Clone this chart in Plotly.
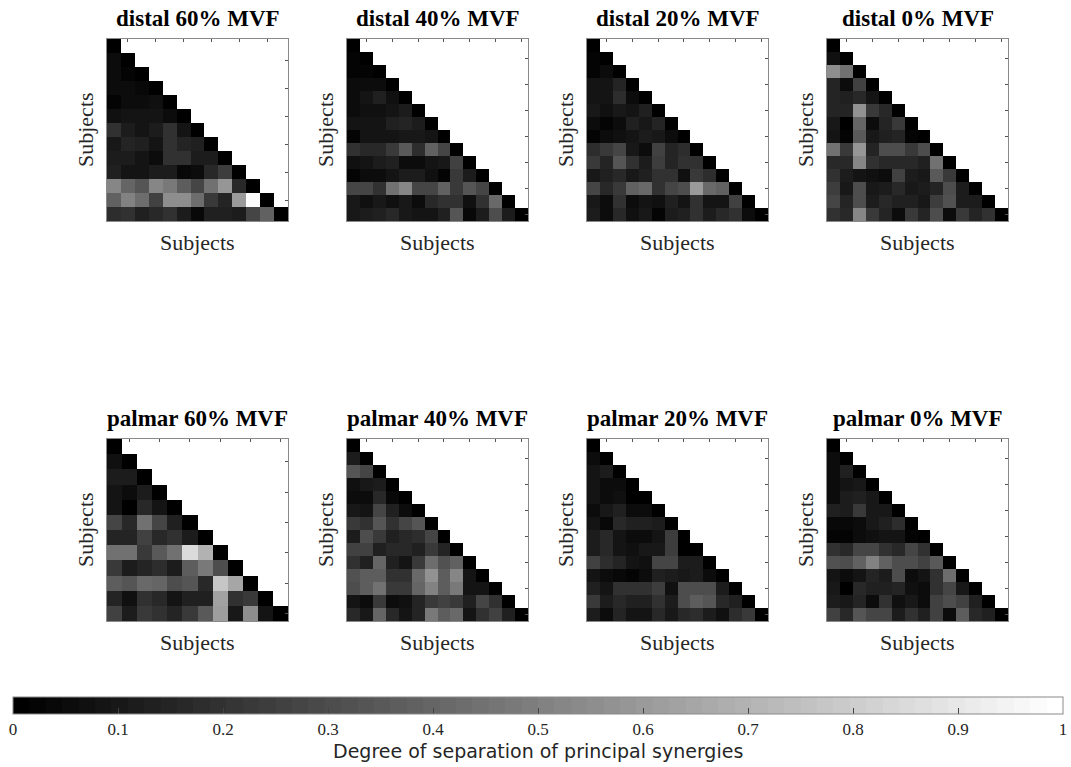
import numpy as np
import plotly.graph_objects as go

# Lower-triangular separation matrices (row i holds columns 1..i)
distal_60 = [
    [0],
    [0.05, 0],
    [0.05, 0.03, 0],
    [0.05, 0.05, 0.04, 0],
    [0.03, 0.06, 0.05, 0.07, 0],
    [0.07, 0.09, 0.08, 0.08, 0.05, 0],
    [0.20, 0.12, 0.09, 0.12, 0.20, 0.08, 0],
    [0.10, 0.15, 0.13, 0.08, 0.20, 0.15, 0.13, 0],
    [0.11, 0.12, 0.09, 0.06, 0.19, 0.19, 0.12, 0.11, 0],
    [0.14, 0.09, 0.09, 0.12, 0.12, 0.04, 0.06, 0.17, 0.24, 0],
    [0.52, 0.40, 0.33, 0.53, 0.47, 0.37, 0.27, 0.45, 0.58, 0.17, 0],
    [0.38, 0.50, 0.43, 0.25, 0.55, 0.56, 0.43, 0.23, 0.15, 0.60, 0.97, 0],
    [0.18, 0.20, 0.14, 0.16, 0.20, 0.11, 0.04, 0.13, 0.14, 0.12, 0.27, 0.38, 0],
]

distal_40 = [
    [0],
    [0.02, 0],
    [0.03, 0.03, 0],
    [0.05, 0.06, 0.06, 0],
    [0.06, 0.08, 0.13, 0.07, 0],
    [0.05, 0.07, 0.07, 0.08, 0.11, 0],
    [0.08, 0.09, 0.09, 0.14, 0.15, 0.11, 0],
    [0.03, 0.08, 0.08, 0.09, 0.10, 0.10, 0.08, 0],
    [0.19, 0.17, 0.16, 0.22, 0.35, 0.18, 0.38, 0.28, 0],
    [0.07, 0.08, 0.11, 0.13, 0.05, 0.05, 0.09, 0.10, 0.25, 0],
    [0.03, 0.06, 0.06, 0.08, 0.11, 0.12, 0.07, 0.03, 0.23, 0.11, 0],
    [0.27, 0.27, 0.20, 0.45, 0.52, 0.27, 0.27, 0.38, 0.23, 0.33, 0.27, 0],
    [0.10, 0.07, 0.10, 0.07, 0.10, 0.05, 0.17, 0.20, 0.20, 0.07, 0.20, 0.42, 0],
    [0.10, 0.12, 0.14, 0.16, 0.10, 0.08, 0.08, 0.13, 0.33, 0.04, 0.12, 0.30, 0.12, 0],
]

distal_20 = [
    [0],
    [0.02, 0],
    [0.02, 0.05, 0],
    [0.08, 0.09, 0.15, 0],
    [0.08, 0.08, 0.18, 0.05, 0],
    [0.10, 0.07, 0.10, 0.08, 0.13, 0],
    [0.05, 0.03, 0.06, 0.14, 0.10, 0.15, 0],
    [0.03, 0.05, 0.07, 0.08, 0.11, 0.10, 0.06, 0],
    [0.18, 0.22, 0.28, 0.10, 0.06, 0.26, 0.15, 0.18, 0],
    [0.22, 0.15, 0.33, 0.19, 0.12, 0.24, 0.15, 0.20, 0.20, 0],
    [0.10, 0.13, 0.17, 0.10, 0.13, 0.20, 0.20, 0.07, 0.22, 0.18, 0],
    [0.27, 0.17, 0.23, 0.38, 0.42, 0.20, 0.27, 0.30, 0.60, 0.42, 0.38, 0],
    [0.10, 0.06, 0.20, 0.06, 0.09, 0.07, 0.14, 0.08, 0.20, 0.08, 0.08, 0.25, 0],
    [0.12, 0.06, 0.17, 0.07, 0.10, 0.02, 0.11, 0.13, 0.20, 0.12, 0.17, 0.20, 0.05, 0],
]

distal_0 = [
    [0],
    [0.07, 0],
    [0.55, 0.45, 0],
    [0.15, 0.06, 0.25, 0],
    [0.15, 0.13, 0.17, 0.08, 0],
    [0.15, 0.15, 0.57, 0.22, 0.16, 0],
    [0.10, 0.00, 0.40, 0.06, 0.15, 0.22, 0],
    [0.08, 0.03, 0.35, 0.10, 0.13, 0.15, 0.03, 0],
    [0.45, 0.23, 0.58, 0.15, 0.30, 0.30, 0.22, 0.30, 0],
    [0.17, 0.17, 0.52, 0.20, 0.17, 0.17, 0.17, 0.13, 0.45, 0],
    [0.20, 0.12, 0.08, 0.07, 0.05, 0.25, 0.12, 0.10, 0.35, 0.22, 0],
    [0.24, 0.10, 0.30, 0.10, 0.12, 0.17, 0.10, 0.12, 0.15, 0.30, 0.12, 0],
    [0.27, 0.15, 0.30, 0.12, 0.17, 0.13, 0.13, 0.10, 0.24, 0.32, 0.12, 0.12, 0],
    [0.20, 0.16, 0.52, 0.23, 0.15, 0.05, 0.22, 0.15, 0.30, 0.06, 0.22, 0.15, 0.20, 0],
]

palmar_60 = [
    [0],
    [0.07, 0],
    [0.11, 0.12, 0],
    [0.08, 0.06, 0.11, 0],
    [0.08, 0.00, 0.17, 0.08, 0],
    [0.27, 0.16, 0.45, 0.27, 0.14, 0],
    [0.15, 0.15, 0.25, 0.17, 0.20, 0.12, 0],
    [0.45, 0.45, 0.22, 0.35, 0.45, 0.85, 0.70, 0],
    [0.23, 0.11, 0.15, 0.18, 0.11, 0.37, 0.48, 0.30, 0],
    [0.37, 0.33, 0.42, 0.40, 0.30, 0.33, 0.17, 0.77, 0.65, 0],
    [0.15, 0.07, 0.20, 0.16, 0.09, 0.13, 0.14, 0.64, 0.20, 0.22, 0],
    [0.25, 0.12, 0.23, 0.20, 0.15, 0.23, 0.35, 0.62, 0.10, 0.55, 0.08, 0],
]

palmar_40 = [
    [0],
    [0.12, 0],
    [0.33, 0.28, 0],
    [0.07, 0.10, 0.12, 0],
    [0.06, 0.05, 0.17, 0.04, 0],
    [0.10, 0.09, 0.28, 0.13, 0.06, 0],
    [0.22, 0.20, 0.33, 0.20, 0.27, 0.33, 0],
    [0.12, 0.30, 0.23, 0.13, 0.17, 0.18, 0.27, 0],
    [0.25, 0.25, 0.13, 0.16, 0.16, 0.14, 0.22, 0.15, 0],
    [0.20, 0.13, 0.40, 0.13, 0.09, 0.22, 0.43, 0.32, 0.38, 0],
    [0.32, 0.37, 0.37, 0.20, 0.20, 0.42, 0.57, 0.37, 0.53, 0.09, 0],
    [0.30, 0.37, 0.45, 0.22, 0.23, 0.40, 0.50, 0.37, 0.47, 0.08, 0.08, 0],
    [0.08, 0.06, 0.23, 0.05, 0.07, 0.15, 0.22, 0.26, 0.22, 0.13, 0.27, 0.20, 0],
    [0.17, 0.10, 0.40, 0.17, 0.08, 0.15, 0.48, 0.37, 0.42, 0.09, 0.20, 0.25, 0.14, 0],
]

palmar_20 = [
    [0],
    [0.05, 0],
    [0.09, 0.11, 0],
    [0.08, 0.06, 0.05, 0],
    [0.09, 0.06, 0.07, 0.01, 0],
    [0.06, 0.10, 0.13, 0.05, 0.06, 0],
    [0.08, 0.04, 0.17, 0.13, 0.13, 0.12, 0],
    [0.12, 0.17, 0.09, 0.05, 0.05, 0.08, 0.24, 0],
    [0.11, 0.17, 0.08, 0.07, 0.10, 0.10, 0.24, 0.00, 0],
    [0.25, 0.18, 0.15, 0.08, 0.07, 0.27, 0.28, 0.12, 0.12, 0],
    [0.09, 0.05, 0.04, 0.03, 0.05, 0.13, 0.11, 0.10, 0.11, 0.06, 0],
    [0.13, 0.08, 0.20, 0.20, 0.20, 0.24, 0.07, 0.30, 0.30, 0.30, 0.12, 0],
    [0.22, 0.12, 0.17, 0.14, 0.14, 0.20, 0.12, 0.30, 0.37, 0.33, 0.17, 0.13, 0],
    [0.12, 0.05, 0.15, 0.08, 0.08, 0.17, 0.10, 0.16, 0.18, 0.11, 0.07, 0.18, 0.22, 0],
]

palmar_0 = [
    [0],
    [0.05, 0],
    [0.05, 0.13, 0],
    [0.05, 0.08, 0.10, 0],
    [0.05, 0.12, 0.13, 0.10, 0],
    [0.13, 0.12, 0.23, 0.10, 0.10, 0],
    [0.04, 0.04, 0.06, 0.10, 0.13, 0.18, 0],
    [0.02, 0.02, 0.05, 0.07, 0.08, 0.08, 0.03, 0],
    [0.20, 0.17, 0.28, 0.27, 0.20, 0.17, 0.27, 0.20, 0],
    [0.32, 0.30, 0.38, 0.50, 0.38, 0.30, 0.30, 0.25, 0.35, 0],
    [0.08, 0.05, 0.08, 0.15, 0.12, 0.30, 0.05, 0.08, 0.20, 0.43, 0],
    [0.10, 0.00, 0.17, 0.13, 0.13, 0.15, 0.07, 0.05, 0.20, 0.27, 0.10, 0],
    [0.12, 0.10, 0.15, 0.06, 0.20, 0.07, 0.10, 0.05, 0.25, 0.30, 0.25, 0.13, 0],
    [0.25, 0.16, 0.33, 0.27, 0.27, 0.12, 0.20, 0.13, 0.25, 0.06, 0.37, 0.17, 0.13, 0],
]

panel_titles = [
    "distal 60% MVF", "distal 40% MVF", "distal 20% MVF", "distal 0% MVF",
    "palmar 60% MVF", "palmar 40% MVF", "palmar 20% MVF", "palmar 0% MVF",
]
panel_data = [distal_60, distal_40, distal_20, distal_0,
              palmar_60, palmar_40, palmar_20, palmar_0]
colorbar_ticks = [0, 0.1, 0.2, 0.3, 0.4, 0.5, 0.6, 0.7, 0.8, 0.9, 1]
axis_label = "Subjects"
colorbar_title = "Degree of separation of principal synergies"

W, H = 1071, 767
SERIF = "Liberation Serif, Times New Roman, serif"
SANS = "DejaVu Sans, sans-serif"

# Panel boxes in pixels
col_left = [107, 347, 587, 827]
box_w = 181
row_top = [39, 439]
box_h = 182


def px_x(x):
    return x / W


def px_y(y):
    return 1 - y / H


def to_matrix(rows):
    n = len(rows)
    m = np.full((n, n), np.nan)
    for i, r in enumerate(rows):
        m[i, :len(r)] = r
    return m


# 64-level grey colormap
levels = 64
gray_scale = []
for k in range(levels):
    g = round(255 * k / (levels - 1))
    c = f"rgb({g},{g},{g})"
    gray_scale.append([k / levels, c])
    gray_scale.append([(k + 1) / levels, c])

fig = go.Figure()
annotations = []

for idx, (title, rows) in enumerate(zip(panel_titles, panel_data)):
    r, c = divmod(idx, 4)
    n = len(rows)
    z = to_matrix(rows)
    ax = "" if idx == 0 else str(idx + 1)
    fig.add_trace(go.Heatmap(
        z=z, x=list(range(1, n + 1)), y=list(range(1, n + 1)),
        coloraxis="coloraxis", xaxis="x" + ax, yaxis="y" + ax,
        hoverongaps=False,
    ))
    x0, x1 = col_left[c], col_left[c] + box_w
    y0, y1 = row_top[r], row_top[r] + box_h
    common = dict(showgrid=False, zeroline=False, showticklabels=False,
                  ticks="inside", ticklen=3, tickwidth=1, tickcolor="#555555",
                  showline=True, linecolor="#8a8a8a", linewidth=1, mirror=True,
                  tickvals=list(range(2, n + 1, 2)))
    fig.update_layout(**{
        "xaxis" + ax: dict(domain=[px_x(x0), px_x(x1)], range=[0.5, n + 0.5],
                           side="top", anchor="y" + ax, **common),
        "yaxis" + ax: dict(domain=[px_y(y1), px_y(y0)], range=[n + 0.5, 0.5],
                           side="right", anchor="x" + ax, **common),
    })
    cx = (x0 + x1) / 2
    annotations.append(dict(text=f"<b>{title}</b>", x=px_x(cx), y=px_y(y0 - 21),
                            xref="paper", yref="paper", showarrow=False,
                            xanchor="center", yanchor="middle",
                            font=dict(family=SERIF, size=23, color="black")))
    annotations.append(dict(text=axis_label, x=px_x(cx), y=px_y(y1 + 21),
                            xref="paper", yref="paper", showarrow=False,
                            xanchor="center", yanchor="middle",
                            font=dict(family=SERIF, size=22, color="#262626")))
    annotations.append(dict(text=axis_label, x=px_x(x0 - 22), y=px_y((y0 + y1) / 2),
                            xref="paper", yref="paper", showarrow=False,
                            xanchor="center", yanchor="middle", textangle=-90,
                            font=dict(family=SERIF, size=22, color="#262626")))

annotations.append(dict(text=colorbar_title, x=px_x(538), y=px_y(751),
                        xref="paper", yref="paper", showarrow=False,
                        xanchor="center", yanchor="middle",
                        font=dict(family=SANS, size=19, color="#262626")))

fig.update_layout(
    width=W, height=H,
    margin=dict(l=0, r=0, t=0, b=0),
    paper_bgcolor="white", plot_bgcolor="white",
    coloraxis=dict(
        colorscale=gray_scale, cmin=0, cmax=1,
        colorbar=dict(
            orientation="h", x=px_x(538), xanchor="center",
            y=px_y(697), yanchor="top",
            lenmode="pixels", len=1050, thickness=17,
            xpad=0, ypad=0,
            outlinecolor="#8a8a8a", outlinewidth=1,
            ticks="inside", ticklen=6, tickcolor="#444444",
            tickvals=colorbar_ticks,
            ticktext=[f"{v:g}" for v in colorbar_ticks],
            tickfont=dict(family=SERIF, size=17, color="#262626"),
        ),
    ),
    annotations=annotations,
    showlegend=False,
)

fig.write_html("out.html")
